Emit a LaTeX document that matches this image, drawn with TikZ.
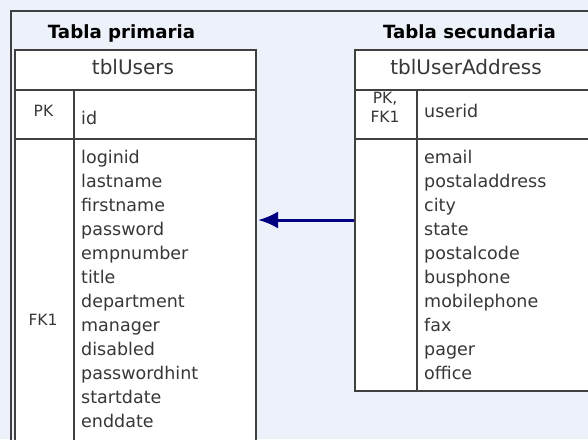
\documentclass[tikz,border=0pt]{standalone}
\usepackage{fontspec}
\setsansfont{DejaVu Sans}
\usetikzlibrary{arrows.meta}
\definecolor{fondo}{RGB}{237,241,250}
\definecolor{borde}{RGB}{64,64,64}
\definecolor{texto}{RGB}{55,55,55}
\definecolor{flecha}{RGB}{0,0,128}

\begin{document}
\begin{tikzpicture}[x=1pt, y=-1pt,
  celda/.style={rectangle, draw=borde, line width=2pt, fill=white, anchor=north west, inner sep=0pt},
  campo/.style={anchor=base west, inner sep=0pt, text=texto, font=\sffamily\fontsize{17.5}{20}\selectfont},
  clave/.style={anchor=base, inner sep=0pt, text=texto, font=\sffamily\fontsize{15.5}{18}\selectfont},
  cabecera/.style={anchor=base, inner sep=0pt, text=texto, font=\sffamily\fontsize{20}{24}\selectfont},
  titulo/.style={anchor=base, inner sep=0pt, font=\sffamily\bfseries\fontsize{18.2}{22}\selectfont}]
  \useasboundingbox (0,0) rectangle (588,439);
  \clip (0,0) rectangle (588,439);
  \fill[fondo] (0,0) rectangle (588,439);
  \draw[borde, line width=2.5pt] (11,450) -- (11,11) -- (600,11);

  \node[titulo] (prim) at (121.5,38) {Tabla primaria};
  \node[titulo] (sec) at (469.5,38) {Tabla secundaria};

  % tabla primaria
  \node[celda, minimum width=241pt, minimum height=40pt] (usr-head) at (14,49) {};
  \node[celda, minimum width=59pt, minimum height=49pt] (usr-pk) at (14,89) {};
  \node[celda, minimum width=182pt, minimum height=49pt] (usr-id) at (73,89) {};
  \node[celda, minimum width=59pt, minimum height=330pt] (usr-fk) at (14,138) {};
  \node[celda, minimum width=182pt, minimum height=330pt] (usr-campos) at (73,138) {};

  \node[cabecera] (usr-nombre) at (133,74) {tblUsers};
  \node[clave] (usr-pk-txt) at (43.5,116) {PK};
  \node[campo] (usr-id-txt) at (81,124) {id};
  \node[clave] (usr-fk-txt) at (43,325) {FK1};
  \foreach \c [count=\i from 0] in {loginid,lastname,firstname,password,empnumber,title,department,manager,disabled,passwordhint,startdate,enddate}
    \node[campo] (usr-c\i) at (81,{163+24*\i}) {\c};

  % tabla secundaria
  \node[celda, minimum width=240pt, minimum height=40pt] (dir-head) at (354,49) {};
  \node[celda, minimum width=62pt, minimum height=49pt] (dir-pk) at (354,89) {};
  \node[celda, minimum width=178pt, minimum height=49pt] (dir-id) at (416,89) {};
  \node[celda, minimum width=62pt, minimum height=252pt] (dir-fk) at (354,138) {};
  \node[celda, minimum width=178pt, minimum height=252pt] (dir-campos) at (416,138) {};

  \node[cabecera] (dir-nombre) at (466,74) {tblUserAddress};
  \node[clave] (dir-pk-txt) at (385,103) {PK,};
  \node[clave] (dir-fk-txt) at (385,122) {FK1};
  \node[campo] (dir-id-txt) at (424,117) {userid};
  \foreach \c [count=\i from 0] in {email,postaladdress,city,state,postalcode,busphone,mobilephone,fax,pager,office}
    \node[campo] (dir-c\i) at (424,{163+24*\i}) {\c};

  \coordinate (flecha-y) at (0,220);
  \draw[flecha, line width=3pt, -{Latex[length=20pt,width=17pt]}, shorten >=1pt]
    (dir-fk.west |- flecha-y) -- (usr-campos.east |- flecha-y);
\end{tikzpicture}
\end{document}
